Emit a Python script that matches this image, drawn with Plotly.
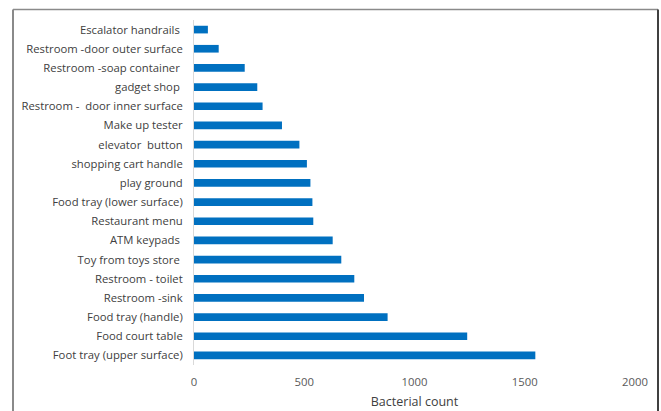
import plotly.graph_objects as go

categories = [
    "Escalator handrails ",
    "Restroom -door outer surface",
    "Restroom -soap container ",
    "gadget shop ",
    "Restroom -  door inner surface",
    "Make up tester",
    "elevator  button",
    "shopping cart handle",
    "play ground",
    "Food tray (lower surface)",
    "Restaurant menu",
    "ATM keypads ",
    "Toy from toys store ",
    "Restroom - toilet",
    "Restroom -sink",
    "Food tray (handle)",
    "Food court table",
    "Foot tray (upper surface)",
]
counts = [63, 112, 230, 287, 311, 399, 478, 512, 528, 537, 541, 629, 668, 727, 771, 878, 1239, 1548]
x_ticks = [0, 500, 1000, 1500, 2000]

W, H = 661, 411
ml, mr, mt, mb = 194, 26, 20, 46
pw, ph = W - ml - mr, H - mt - mb

def px_x(p):
    return (p - ml) / pw

def px_y(p):
    return (H - mb - p) / ph

fig = go.Figure(go.Bar(
    y=categories, x=counts, orientation="h",
    marker=dict(color="#0070C0", line=dict(width=0)),
))

fig.update_layout(
    width=W, height=H,
    margin=dict(l=ml, r=mr, t=mt, b=mb, autoexpand=False),
    paper_bgcolor="white", plot_bgcolor="white",
    bargap=0.6,
    showlegend=False,
    font=dict(family="Open Sans", size=11.3, color="#404040"),
    xaxis=dict(
        range=[0, 2000], tickvals=x_ticks, showgrid=False, zeroline=False,
        showline=False, ticks="", ticklabelstandoff=9, automargin=False,
        tickfont=dict(size=11.3, color="#595959"),
        title=dict(text="Bacterial count", font=dict(size=12.5, color="#404040"), standoff=8),
    ),
    yaxis=dict(
        autorange="reversed", showgrid=False, zeroline=False, automargin=False,
        showline=True, linecolor="#d9d9d9", linewidth=1, ticks="",
        ticklabelstandoff=8, tickfont=dict(size=11.3, color="#404040"),
    ),
    shapes=[
        dict(type="line", xref="paper", yref="paper",
             x0=px_x(13), x1=px_x(13), y0=px_y(9.5), y1=px_y(420),
             line=dict(color="#8a8a8a", width=2)),
        dict(type="line", xref="paper", yref="paper",
             x0=px_x(13), x1=px_x(658), y0=px_y(9.5), y1=px_y(9.5),
             line=dict(color="#8a8a8a", width=1.5)),
        dict(type="line", xref="paper", yref="paper",
             x0=px_x(658), x1=px_x(658), y0=px_y(9.5), y1=px_y(420),
             line=dict(color="#404040", width=2)),
    ],
)

fig.write_html("out.html")
